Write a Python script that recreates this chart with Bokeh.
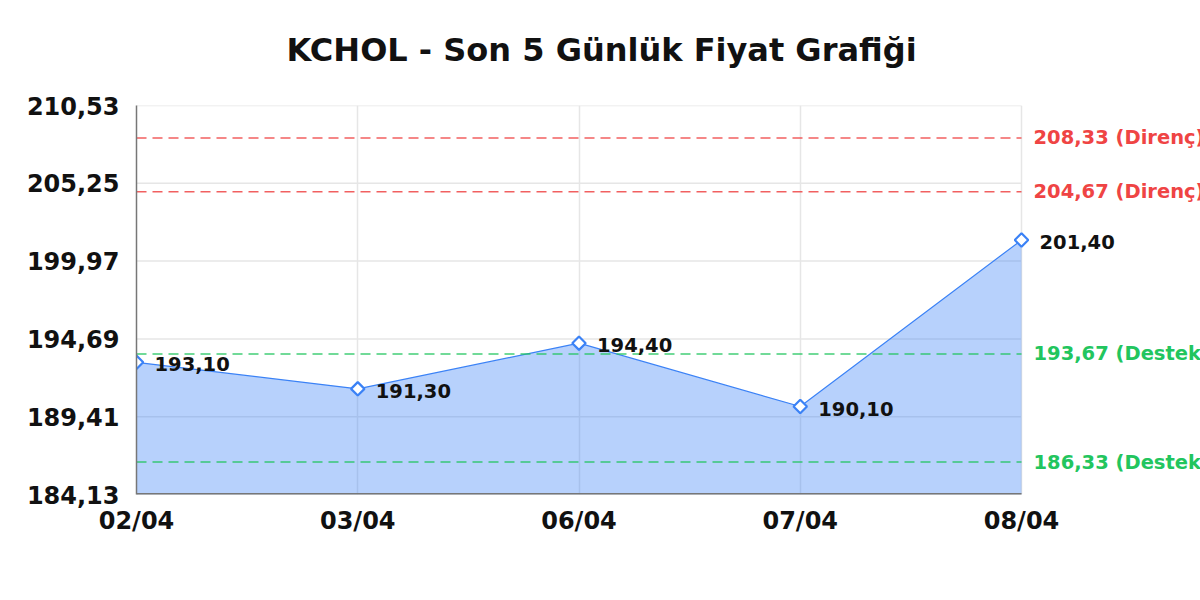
import numpy as np
from bokeh.plotting import figure
from bokeh.models import ColumnDataSource, FixedTicker, Title
from bokeh.core.properties import value
from bokeh.embed import file_html
from bokeh.resources import INLINE

# data
dates = ["02/04", "03/04", "06/04", "07/04", "08/04"]
prices = [193.10, 191.30, 194.40, 190.10, 201.40]
resistance = [208.33, 204.67]
support = [193.67, 186.33]
y_ticks = [184.13, 189.41, 194.69, 199.97, 205.25, 210.53]

FONT = "DejaVu Sans"
RED = "#ef4444"
GREEN = "#22c55e"
BLUE = "#3b82f6"


def tr(v):
    return f"{v:.2f}".replace(".", ",")


x = list(range(len(dates)))
last = len(dates) - 1

# the frame runs on past the last day so the level labels on the right are not clipped
plot_w = 1200
left, right_px = 136, 1021
x_end = last * (plot_w - left) / (right_px - left)

source = ColumnDataSource(dict(x=x, y=prices, lbl=[tr(v) for v in prices]))

p = figure(width=plot_w, height=600, output_backend="svg", toolbar_location=None,
           x_range=(0, x_end), y_range=(y_ticks[0], y_ticks[-1]),
           min_border_left=left, min_border_right=0, min_border_bottom=106,
           min_border_top=105, title="KCHOL - Son 5 Günlük Fiyat Grafiği")

p.title.align = "left"
p.title.offset = 150
p.title.text_font = FONT
p.title.text_font_size = "32px"
p.title.text_font_style = "bold"
p.title.text_color = "#111111"
p.title.standoff = 56

# small empty spacer between the title and the frame
p.add_layout(Title(text=" ", text_font_size="1px", standoff=6), "above")

p.outline_line_color = None
p.xgrid.grid_line_color = "#e6e6e6"
p.xgrid.grid_line_width = 1.5
p.ygrid.visible = False

# axes
p.xaxis.ticker = FixedTicker(ticks=x)
p.xaxis.major_label_overrides = {i: d for i, d in enumerate(dates)}
p.yaxis.ticker = FixedTicker(ticks=y_ticks)
p.yaxis.major_label_overrides = {t: tr(t) for t in y_ticks}
for ax in (p.xaxis, p.yaxis):
    ax.major_label_text_font = FONT
    ax.major_label_text_font_size = "24px"
    ax.major_label_text_font_style = "bold"
    ax.major_label_text_color = "#111111"
    ax.major_tick_line_color = None
    ax.major_tick_out = 0
    ax.minor_tick_line_color = None
    ax.axis_line_color = "#777777"
    ax.axis_line_width = 1.5
p.xaxis.axis_line_color = None
p.xaxis.major_label_standoff = 12
p.yaxis.major_label_standoff = 17

# horizontal grid lines, only over the days
p.segment(x0=0, x1=last, y0=y_ticks, y1=y_ticks, line_color="#e6e6e6", line_width=1.5)

# area + line
p.varea(x="x", y1=y_ticks[0], y2="y", source=source, fill_color=BLUE, fill_alpha=0.37)
p.line(x="x", y="y", source=source, line_color=BLUE, line_width=1.2)

# bottom axis line, only over the days
p.segment(x0=0, x1=last, y0=y_ticks[0], y1=y_ticks[0], line_color="#777777", line_width=3)

# support / resistance
levels = resistance + support
lv_colors = [RED] * len(resistance) + [GREEN] * len(support)
lv_text = [f"{tr(v)} (Direnç)" for v in resistance] + [f"{tr(v)} (Destek)" for v in support]
lv_src = ColumnDataSource(dict(y=levels, c=lv_colors, t=lv_text,
                               x0=[0] * len(levels), x1=[last] * len(levels)))
p.segment(x0="x0", x1="x1", y0="y", y1="y", source=lv_src, line_color="c",
          line_alpha=0.85, line_dash="10 6", line_width=1.5)
p.text(x="x1", y="y", text="t", source=lv_src, x_offset=12, text_baseline="middle",
       text_font=value(FONT), text_font_size="19.5px", text_font_style="bold",
       text_color="c")

# markers and labels
p.scatter(x="x", y="y", source=source, marker="square", angle=np.pi / 4, size=9.5,
          fill_color="white", line_color=BLUE, line_width=2.2)
p.text(x="x", y="y", text="lbl", source=source, x_offset=18, y_offset=2,
       text_baseline="middle", text_font=value(FONT), text_font_size="19.5px",
       text_font_style="bold", text_color="#111111")

open("out.html", "w").write(file_html(p, INLINE))
